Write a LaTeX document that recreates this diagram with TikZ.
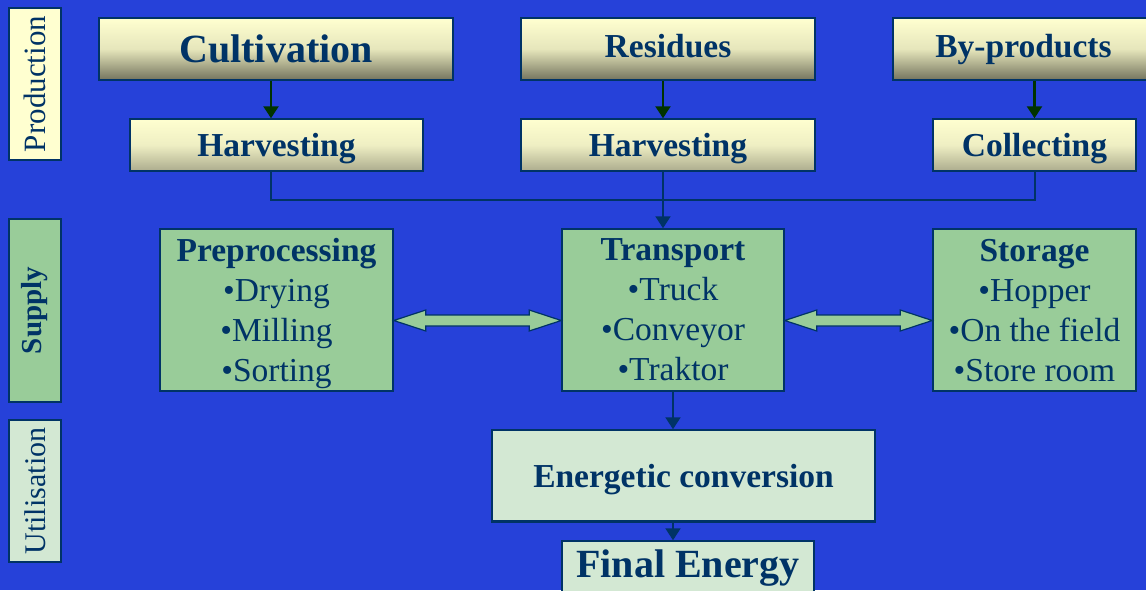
\documentclass[tikz,border=0pt]{standalone}
\usepackage{fontspec}
\setmainfont{Liberation Serif}
\usetikzlibrary{arrows.meta,calc}

\definecolor{bgblue}{RGB}{38,65,217}
\definecolor{navy}{RGB}{0,51,102}
\definecolor{darkgrn}{RGB}{0,51,0}
\definecolor{paleyel}{RGB}{255,255,208}
\definecolor{khaki}{RGB}{116,116,94}
\definecolor{khakilt}{RGB}{172,172,142}
\definecolor{midgreen}{RGB}{153,204,153}
\definecolor{palegreen}{RGB}{211,232,211}

\newcommand{\fntbig}{\fontsize{40}{48}\selectfont\bfseries}
\newcommand{\fntmid}{\fontsize{33.5}{40}\selectfont}
\newcommand{\fntside}{\fontsize{31}{36}\selectfont}

\tikzset{
  box/.style={draw=navy, line width=1.5pt, text=navy, inner sep=0pt, align=center},
  tallbox/.style={box, top color=paleyel, bottom color=khaki, middle color=paleyel!82!khaki},
  flatbox/.style={box, top color=paleyel, bottom color=khakilt, middle color=paleyel!80!khakilt,
    text height=23pt, text depth=1pt},
  supbox/.style={box, fill=midgreen, font=\fntmid, text depth=0pt},
  usebox/.style={box, fill=palegreen},
  grnarrow/.style={draw=darkgrn, line width=2.5pt, -{Triangle[width=15pt,length=12pt]}},
  navyline/.style={draw=navy, line width=2pt},
  navyarrow/.style={navyline, -{Triangle[width=15pt,length=12pt]}},
  dblarrow/.style={draw=navy, line width=1.2pt, fill=midgreen, line join=miter}
}

% block arrow with two heads, from the east side of #1 to the west side of #2
\newcommand{\dblarrow}[2]{%
  \draw[dblarrow] ($(#1.east)+(0,10.5)$) -- ++(32,-10.5) -- ++(0,5) -- ($(#2.west)+(-32,5)$) -- ++(0,-5)
    -- ($(#2.west)+(0,10.5)$) -- ++(-32,10.5) -- ++(0,-5) -- ($(#1.east)+(32,16)$) -- ++(0,5) -- cycle;}

\begin{document}
\begin{tikzpicture}[x=1pt,y=1pt,yscale=-1,xscale=1]
\useasboundingbox[fill=bgblue] (0,0) rectangle (1146,590);

% side labels
\node[box, fill=paleyel, rotate=90, minimum width=152, minimum height=52, font=\fntside] (prod) at (35,84) {Production};
\node[box, fill=midgreen, rotate=90, minimum width=183, minimum height=52, font=\fontsize{29}{34}\selectfont\bfseries] (supply) at (35,310.5) {Supply};
\node[box, fill=palegreen, rotate=90, minimum width=142, minimum height=52, font=\fontsize{30}{36}\selectfont] (util) at (35,491) {Utilisation};

% production
\node[tallbox, minimum width=354, minimum height=62, font=\fntbig, text height=27pt, text depth=1pt] (cult) at (276,49) {Cultivation};
\node[tallbox, minimum width=294, minimum height=62, font=\fntmid\bfseries, text height=23pt, text depth=7pt] (resid) at (668,49) {Residues};
\node[tallbox, minimum width=261, minimum height=62, font=\fntmid\bfseries, text height=23pt, text depth=7pt] (byprod) at (1023.5,49) {By-products};
\node[flatbox, minimum width=293, minimum height=52, font=\fntmid\bfseries] (harv1) at (276.5,145) {Harvesting};
\node[flatbox, minimum width=294, minimum height=52, font=\fntmid\bfseries] (harv2) at (668,145) {Harvesting};
\node[flatbox, minimum width=203, minimum height=52, font=\fntmid\bfseries] (coll) at (1034.5,145) {Collecting};
\coordinate (join) at (663,200);

% supply
\node[supbox, minimum width=233, minimum height=162] (prep) at (276.5,310) {\textbf{Preprocessing}\\•Drying\\•Milling\\•Sorting};
\node[supbox, minimum width=222, minimum height=162] (trans) at (673,310) {\textbf{Transport}\\•Truck\\•Conveyor\\•Traktor};
\node[supbox, minimum width=203, minimum height=162] (stor) at (1034.5,310) {\textbf{Storage}\\•Hopper\\•On the field\\•Store room};

% utilisation
\node[usebox, minimum width=383, minimum height=91, font=\fntmid\bfseries, text height=23pt, text depth=0pt] (energ) at (683.5,475.5) {Energetic conversion};
\draw[navy, line width=3pt] (energ.south west) -- (energ.south east);
\node[usebox, minimum width=252, minimum height=60, font=\fntbig, text height=27pt, text depth=15pt] (final) at (688,571) {Final Energy};

% connectors
\draw[grnarrow] ([xshift=-5pt]cult.south) -- ([xshift=-5.5pt]harv1.north);
\draw[grnarrow] ([xshift=-5pt]resid.south) -- ([xshift=-5pt]harv2.north);
\draw[grnarrow] (byprod.south -| coll.north) -- (coll.north);
\draw[navyline] ([xshift=-5.5pt]harv1.south) |- (join) -| (coll.south);
\draw[navyarrow] ([xshift=-5pt]harv2.south) -- ([xshift=-10pt]trans.north);
\draw[navyarrow] (trans.south) -- (trans.south |- energ.north);
\draw[navyarrow] (trans.south |- energ.south) -- (trans.south |- final.north);
\dblarrow{prep}{trans}
\dblarrow{trans}{stor}

\end{tikzpicture}
\end{document}
